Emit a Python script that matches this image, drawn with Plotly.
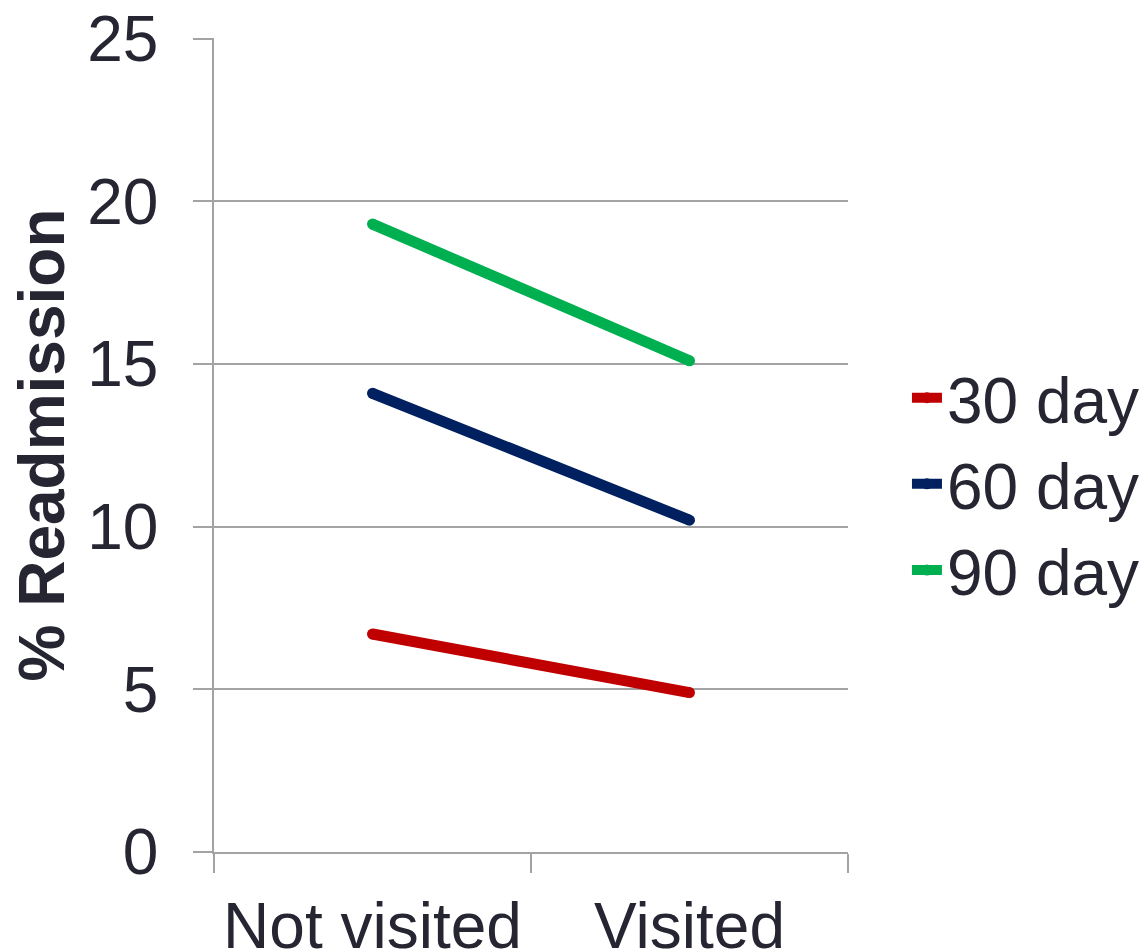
import plotly.graph_objects as go

categories = ["Not visited", "Visited"]
series_names = ["30 day", "60 day", "90 day"]
day30 = [6.7, 4.9]
day60 = [14.1, 10.2]
day90 = [19.3, 15.1]
colors = ["#C00000", "#002060", "#00B050"]
y_ticks = [0, 5, 10, 15, 20, 25]

TXT = "#262632"
GRID = "#a3a3a3"
FONT = "Liberation Sans, Arial, sans-serif"
FS = 64
LW = 11

fig = go.Figure()
for name, vals, col in zip(series_names, [day30, day60, day90], colors):
    fig.add_trace(go.Scatter(x=categories, y=vals, name=name, mode="lines+markers",
                             line=dict(color=col, width=LW),
                             marker=dict(color=col, size=LW, line=dict(width=0))))

fig.update_layout(
    width=1146, height=952,
    margin=dict(l=214, r=298, t=38, b=100, autoexpand=False),
    paper_bgcolor="white", plot_bgcolor="white",
    font=dict(family=FONT, size=FS, color=TXT),
    showlegend=True,
    legend=dict(x=1.093, xanchor="left", y=0.452, yanchor="middle",
                font=dict(size=FS, color=TXT), tracegroupgap=0,
                bgcolor="rgba(0,0,0,0)"),
    xaxis=dict(type="category", tickson="boundaries", ticks="outside", ticklen=19,
               tickcolor=GRID, tickwidth=1.5, showgrid=False, showline=True,
               linecolor=GRID, linewidth=1.5, zeroline=False, automargin=False,
               tickfont=dict(size=FS, color=TXT), ticklabelstandoff=17,
               range=[-0.5, 1.5]),
    yaxis=dict(range=[0, 25.02], tickvals=y_ticks, ticks="outside", ticklen=19,
               tickcolor=GRID, tickwidth=1.5, showgrid=True, gridcolor=GRID,
               gridwidth=1.5, showline=True, linecolor=GRID, linewidth=1.5,
               zeroline=False, automargin=False, tickfont=dict(size=FS, color=TXT),
               ticklabelstandoff=22,
               title=dict(text="<b>% Readmission</b>", font=dict(size=FS, color=TXT),
                          standoff=2)),
)

fig.write_html("out.html")
